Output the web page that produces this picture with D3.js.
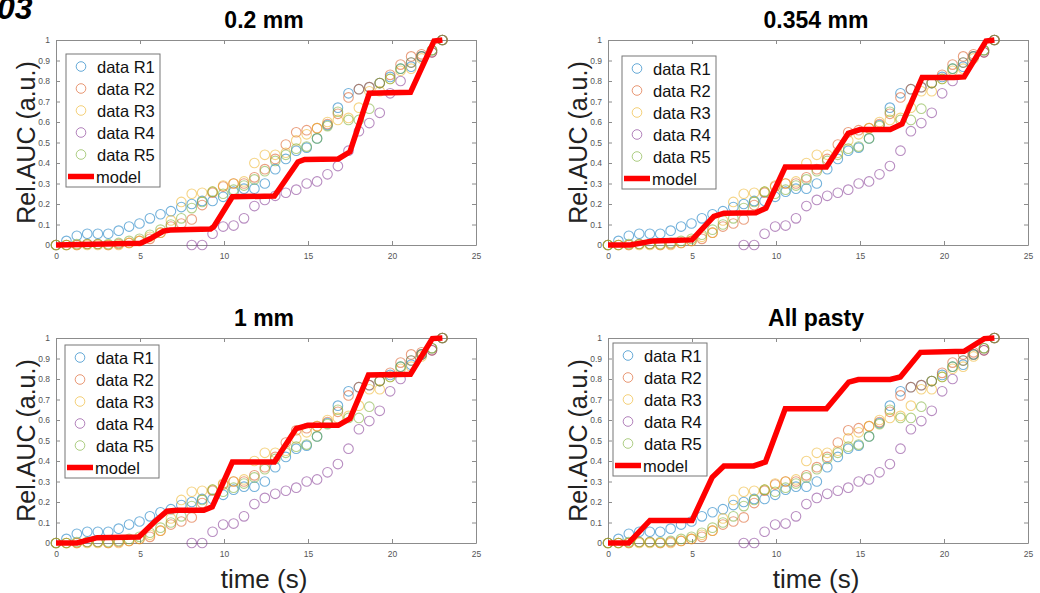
<!DOCTYPE html>
<html>
<head>
<meta charset="utf-8">
<script src="https://cdn.jsdelivr.net/npm/d3@7"></script>
<style>
  body { margin: 0; background: #fff; }
  svg { display: block; font-family: Arial, "Liberation Sans", sans-serif; }
</style>
</head>
<body>
<svg id="chart" width="1040" height="593"></svg>
<script>
// sample times (s), shared by all runs
const time = [0, 0.62, 1.24, 1.86, 2.49, 3.11, 3.73, 4.35, 4.97, 5.59, 6.22, 6.84, 7.46, 8.08, 8.70, 9.32, 9.95, 10.57, 11.19, 11.81,
  12.43, 13.05, 13.68, 14.30, 14.92, 15.54, 16.16, 16.78, 17.41, 18.03, 18.65, 19.27, 19.89, 20.51, 21.14, 21.76, 22.38, 23.0];

const r1 = [0, 0.02, 0.045, 0.055, 0.055, 0.055, 0.07, 0.09, 0.105, 0.13, 0.15, 0.165, 0.185, 0.2, 0.215, 0.215, 0.235, 0.26, 0.275, 0.275,
  0.3, 0.37, 0.42, 0.46, 0.475, 0.52, 0.585, 0.67, 0.74, 0.76, 0.77, 0.79, 0.82, 0.86, 0.87, 0.92, 0.95, 1.0];
const r2 = [0, 0, 0, 0.005, 0.005, 0, 0.005, 0.01, 0.02, 0.03, 0.06, 0.09, 0.105, 0.125, 0.195, 0.255, 0.285, 0.3, 0.3, 0.33,
  0.37, 0.42, 0.49, 0.55, 0.56, 0.57, 0.59, 0.64, 0.72, 0.76, 0.77, 0.79, 0.83, 0.88, 0.92, 0.93, 0.94, 1.0];
const r3 = [0, 0, 0, 0, 0, 0, 0, 0.01, 0.02, 0.04, 0.06, 0.12, 0.21, 0.25, 0.255, 0.26, 0.29, 0.3, 0.31, 0.4,
  0.44, 0.44, 0.45, 0.51, 0.54, 0.57, 0.6, 0.61, 0.62, 0.67, 0.75, 0.75, 0.81, 0.85, 0.86, 0.91, 0.95, 1.0];
const r4 = [null, null, null, null, null, null, null, null, null, null, null, null, null, 0, 0, 0.055, 0.09, 0.095, 0.13, 0.19,
  0.22, 0.24, 0.255, 0.27, 0.3, 0.31, 0.345, 0.385, 0.46, 0.555, 0.595, 0.645, 0.74, 0.8, 0.89, 0.92, 0.94, 1.0];
const r5 = [0, 0, 0.005, 0.005, 0.005, 0.005, 0.01, 0.02, 0.03, 0.05, 0.075, 0.1, 0.13, 0.18, 0.21, 0.26, 0.25, 0.27, 0.29, 0.32,
  0.36, 0.41, 0.44, 0.47, 0.48, 0.52, 0.58, 0.65, 0.61, 0.61, 0.665, 0.79, 0.81, 0.86, 0.89, 0.92, 0.95, 1.0];

const seriesNames = ["data R1", "data R2", "data R3", "data R4", "data R5"];
const seriesColors = ["#0072BD", "#D95319", "#EDB120", "#7E2F8E", "#77AC30"];

// model curves, one per panel (time, value)
const model02t = [0, 5.03, 5.6, 6.4, 6.8, 9.2, 9.4, 10.5, 13.0, 14.4, 14.8, 16.8, 17.5, 18.65, 21.1, 22.5, 23.0];
const model02y = [0, 0.008, 0.03, 0.068, 0.073, 0.078, 0.09, 0.235, 0.239, 0.405, 0.417, 0.42, 0.455, 0.74, 0.745, 0.995, 1.0];
const model0354t = [0, 1.33, 2.7, 5.0, 6.3, 6.9, 8.8, 9.4, 10.55, 13.0, 14.3, 15.0, 16.8, 17.5, 18.7, 20.6, 21.2, 22.5, 23.0];
const model0354y = [0, 0, 0.02, 0.025, 0.14, 0.155, 0.157, 0.18, 0.38, 0.38, 0.545, 0.563, 0.563, 0.59, 0.817, 0.817, 0.82, 0.995, 1.0];
const model1t = [0, 1.25, 2.45, 4.93, 5.9, 6.6, 7.2, 8.8, 9.3, 10.5, 13.0, 14.3, 15.0, 16.8, 17.5, 18.6, 21.1, 22.4, 23.0];
const model1y = [0, 0, 0.026, 0.029, 0.106, 0.155, 0.16, 0.16, 0.176, 0.395, 0.395, 0.558, 0.574, 0.574, 0.607, 0.82, 0.823, 0.997, 1.0];
const modelAllt = [0, 1.23, 2.5, 5.0, 6.2, 6.9, 8.67, 9.37, 10.55, 13.0, 14.33, 14.9, 16.8, 17.4, 18.6, 21.2, 22.4, 23.0];
const modelAlly = [0, 0, 0.11, 0.11, 0.32, 0.376, 0.376, 0.395, 0.655, 0.655, 0.785, 0.797, 0.798, 0.81, 0.93, 0.935, 0.997, 1.0];

const titles = ["0.2 mm", "0.354 mm", "1 mm", "All pasty"];
const xTicks = [0, 5, 10, 15, 20, 25];
const yTicks = [0, 0.1, 0.2, 0.3, 0.4, 0.5, 0.6, 0.7, 0.8, 0.9, 1];

const svg = d3.select("#chart");

// panel label, clipped at the top of the figure like the original
svg.append("text")
    .attr("x", -3).attr("y", 19)
    .attr("font-size", 32).attr("font-weight", "bold").attr("font-style", "italic")
    .text("03");

const panels = [
    { title: titles[0], mt: model02t, my: model02y, left: 56, top: 40, legX: 66, legY: 54, xlabel: false },
    { title: titles[1], mt: model0354t, my: model0354y, left: 608, top: 40, legX: 622, legY: 56, xlabel: false },
    { title: titles[2], mt: model1t, my: model1y, left: 56, top: 338, legX: 65, legY: 345, xlabel: true },
    { title: titles[3], mt: modelAllt, my: modelAlly, left: 608, top: 338, legX: 613, legY: 343, xlabel: true }
];

const plotW = 420, plotH = 205;
const axisGrey = "#8c8c8c";
const fmt = d3.format("~g");

panels.forEach(p => {
    const g = svg.append("g").attr("transform", `translate(${p.left},${p.top})`);

    const x = d3.scaleLinear().domain([0, 25]).range([0, plotW]);
    const y = d3.scaleLinear().domain([0, 1]).range([plotH, 0]);

    // axes with inward ticks, matlab style box
    const xAx = g.append("g").attr("transform", `translate(0,${plotH})`)
        .call(d3.axisBottom(x).tickValues(xTicks).tickSizeInner(-4).tickSizeOuter(0).tickPadding(8).tickFormat(fmt));
    const xTop = g.append("g")
        .call(d3.axisTop(x).tickValues(xTicks).tickSizeInner(-4).tickSizeOuter(0).tickFormat(""));
    const yAx = g.append("g")
        .call(d3.axisLeft(y).tickValues(yTicks).tickSizeInner(-4).tickSizeOuter(0).tickPadding(6).tickFormat(fmt));
    const yRight = g.append("g").attr("transform", `translate(${plotW},0)`)
        .call(d3.axisRight(y).tickValues(yTicks).tickSizeInner(-4).tickSizeOuter(0).tickFormat(""));

    [xAx, xTop, yAx, yRight].forEach(a => {
        a.selectAll("path.domain").attr("stroke", axisGrey);
        a.selectAll(".tick line").attr("stroke", axisGrey);
        a.selectAll(".tick text").attr("font-size", 8.5).attr("fill", "#555")
            .attr("font-family", "Arial, 'Liberation Sans', sans-serif");
    });

    // data runs
    [r1, r2, r3, r4, r5].forEach((vals, k) => {
        const pts = time.map((t, i) => ({ t, v: vals[i] })).filter(d => d.v !== null);
        g.append("g").selectAll("circle").data(pts).join("circle")
            .attr("cx", d => x(d.t)).attr("cy", d => y(d.v)).attr("r", 4.8)
            .attr("fill", "none").attr("stroke", seriesColors[k])
            .attr("stroke-opacity", 0.55).attr("stroke-width", 1.1);
    });

    // model
    const line = d3.line().x(d => x(d[0])).y(d => y(d[1]));
    g.append("path")
        .datum(p.mt.map((t, i) => [t, p.my[i]]))
        .attr("d", line)
        .attr("fill", "none").attr("stroke", "#f00").attr("stroke-width", 5.5)
        .attr("stroke-linejoin", "miter");

    // title
    svg.append("text")
        .attr("x", p.left + plotW / 2 - 2).attr("y", p.top - 12)
        .attr("text-anchor", "middle").attr("font-size", 23).attr("font-weight", "bold")
        .text(p.title);

    // y label
    svg.append("text")
        .attr("transform", `translate(${p.left - 21},${p.top + plotH / 2}) rotate(-90)`)
        .attr("text-anchor", "middle").attr("font-size", 25).attr("fill", "#222")
        .text("Rel.AUC (a.u.)");

    if (p.xlabel) {
        svg.append("text")
            .attr("x", p.left + plotW / 2 - 2).attr("y", p.top + plotH + 45)
            .attr("text-anchor", "middle").attr("font-size", 26).attr("fill", "#222")
            .text("time (s)");
    }

    // legend
    const leg = svg.append("g").attr("transform", `translate(${p.legX},${p.legY})`);
    leg.append("rect").attr("width", 94).attr("height", 133)
        .attr("fill", "#fff").attr("stroke", "#777").attr("stroke-width", 1);
    seriesNames.forEach((name, k) => {
        const yy = 12.5 + k * 22;
        leg.append("circle").attr("cx", 15).attr("cy", yy).attr("r", 4.8)
            .attr("fill", "none").attr("stroke", seriesColors[k]).attr("stroke-opacity", 0.6);
        leg.append("text").attr("x", 31).attr("y", yy + 6).attr("font-size", 16.5).attr("fill", "#111").text(name);
    });
    const ym = 12.5 + 5 * 22;
    leg.append("line").attr("x1", 2).attr("x2", 28).attr("y1", ym).attr("y2", ym)
        .attr("stroke", "#f00").attr("stroke-width", 5.5);
    leg.append("text").attr("x", 30).attr("y", ym + 6).attr("font-size", 16.5).attr("fill", "#111").text("model");
});
</script>
</body>
</html>
